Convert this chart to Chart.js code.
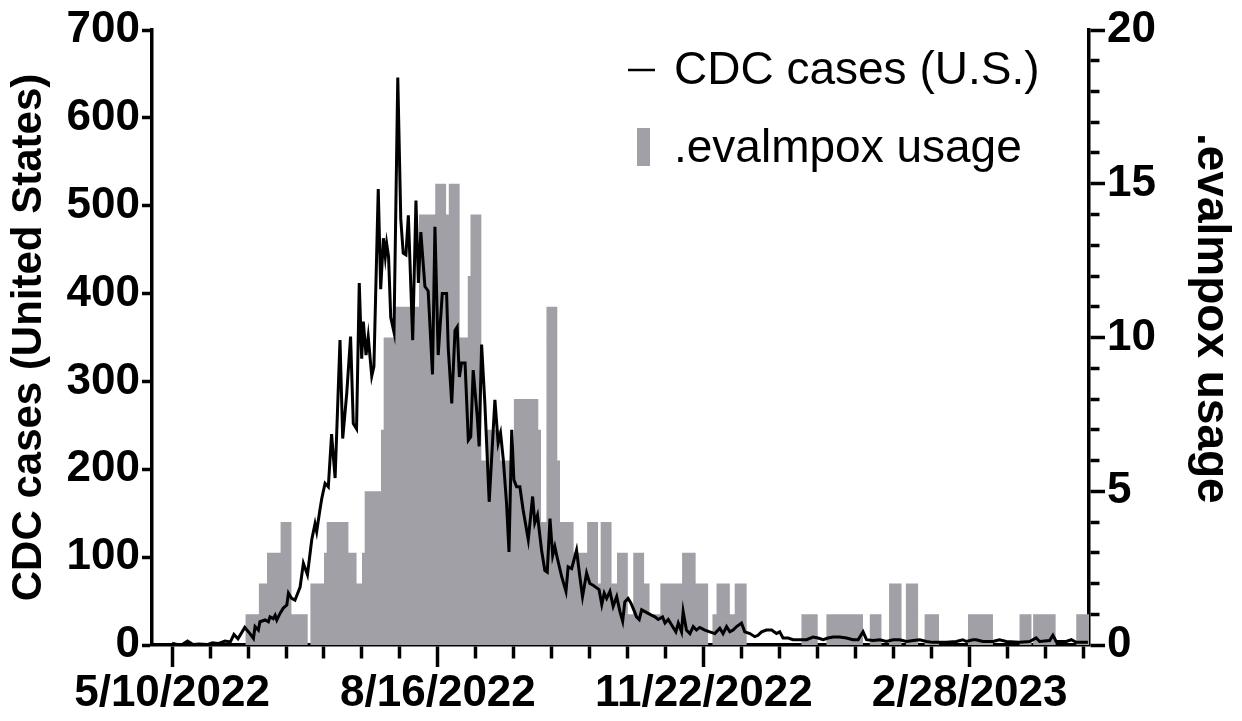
<!DOCTYPE html>
<html>
<head>
<meta charset="utf-8">
<script src="https://cdn.jsdelivr.net/npm/chart.js@4.4.0/dist/chart.umd.min.js"></script>
<style>
  html, body { margin: 0; padding: 0; background: #fff; }
</style>
</head>
<body>
<canvas id="mpoxChart" width="1242" height="721"></canvas>
<script>
// x values are days counted from 5/10/2022
const caseDays = [
  0, 1.8, 4, 5.7, 7.7, 10, 12.9, 14.9, 16.9, 19.5,
  21.5, 22.8, 24.3, 26.8, 28.7, 30, 30.6, 31.8, 32.4, 34.3,
  35.5, 36.1, 37.3, 38, 38.6, 39.8, 41, 42.3, 42.9, 44.1,
  45.3, 47.2, 48.4, 49.9, 51.5, 52.7, 53.3, 54.5, 55.2, 56.4,
  57.6, 58.8, 60.1, 61.9, 62.9, 64.4, 65.8, 66.8, 68, 69,
  69.9, 70.5, 71.5, 72.3, 73.6, 74.4, 76, 76.9, 77.9, 78.6,
  79.1, 79.8, 80.6, 81.8, 83.2, 84.3, 85.2, 86.2, 87.1, 88.7,
  89.9, 90.8, 91.7, 92.6, 93.2, 94.4, 96, 96.9, 98.1, 99.6,
  101.2, 101.8, 103.1, 104.3, 105.1, 105.9, 106.7, 108, 109.2, 110.1,
  111, 112.5, 113.2, 114.1, 115.3, 116.9, 119, 120.2, 121.1, 122.1,
  123.3, 124.2, 125.2, 126, 127, 128.2, 129.4, 131.3, 132.9, 133.7,
  134.7, 136.2, 137.4, 138.3, 139.3, 140.3, 141.1, 142, 143.6, 145.2,
  146, 147.3, 149.1, 150.3, 151.3, 152.8, 154, 155.2, 157.4, 158.4,
  159.3, 160.2, 161.4, 162.6, 163.9, 165.1, 166.1, 166.9, 168.1, 169.1,
  170.2, 171.2, 172.2, 173.1, 174.3, 175.5, 176.7, 178, 179.2, 180.8,
  181.7, 182.9, 184.1, 185.7, 186.6, 187.8, 188.4, 189.6, 190.9, 192.1,
  193.3, 194.5, 196.4, 198.2, 200.1, 201.9, 203.1, 204.4, 205.6, 206.8,
  208.1, 209.9, 211.1, 213, 214.8, 216, 217.3, 219.1, 221, 222.8,
  224, 225.2, 227.1, 228.9, 231.4, 233.9, 236.3, 238.1, 240, 241.8,
  243.7, 246.1, 248.6, 251, 252.9, 254.7, 256, 258.4, 260.9, 263.3,
  265.8, 268.2, 270.7, 273.2, 275.6, 278.1, 280.5, 285.4, 289.1, 291.5,
  292.8, 295.2, 296.4, 298.9, 302.6, 305, 307.5, 312.4, 316.1, 318.5,
  319.8, 323.5, 324.7, 325.9, 329.6, 331.5, 333.3, 337.6
];
const caseValues = [
  2, 0.5, 1, 4.5, 0.5, 1, 0.5, 2.4, 1.6, 4.5,
  3.5, 12, 7, 20, 13, 7.6, 21, 17, 26.5, 28.5,
  26.5, 32, 30, 34, 28.5, 36, 42, 45.5, 59, 53,
  51, 66, 93, 80, 120, 138, 129, 154, 167, 184,
  180, 240, 190, 347, 235, 287, 351, 252, 246, 412,
  326, 368, 330, 351, 306, 317, 519, 405, 463, 442,
  457, 442, 373, 356, 646, 485, 446, 444, 489, 347,
  506, 412, 470, 433, 408, 403, 308, 476, 330, 400,
  400, 338, 275, 358, 362, 305, 321, 321, 233, 237,
  313, 260, 226, 342, 275, 163, 279, 230, 241, 211,
  161, 106, 245, 188, 180, 180, 154, 120, 169, 139,
  148, 108, 85, 83, 144, 102, 112, 99, 78, 61,
  89, 87, 108, 78, 55, 82, 70, 68, 63, 46,
  59, 53, 61, 44, 55, 38, 27, 49, 53, 48,
  40, 32, 29, 40, 38, 36, 34, 32, 29, 32,
  25, 29, 23, 15, 25, 15, 38, 17, 13, 21,
  17, 20, 17, 15, 13, 19, 13, 21, 15, 17,
  21, 25, 15, 13, 9.5, 11, 15, 17, 17, 13,
  15, 8, 8, 6, 6, 6, 9, 8, 6, 8,
  9, 9, 8, 6, 6, 15, 6, 5, 6, 4,
  6, 6, 4, 5, 6, 4, 3, 3, 4, 6,
  4, 6, 6, 4, 4, 6, 4, 3, 4, 8,
  4, 5, 11, 4, 4, 6, 3, 3
];

// usage: each value holds from its start day until the next start day
const usageStartDays = [
  27, 32, 35, 40, 44, 50, 51, 56, 57, 65,
  68, 70, 71, 77, 78, 82, 91, 97, 101, 102,
  106, 109, 110, 114, 116, 121, 126, 135, 136, 138,
  142, 143, 148, 153, 157, 158, 162, 164, 168, 170,
  174, 176, 180, 188, 193, 197.6, 199.2, 200.7, 205.6, 207.4,
  211.8, 232, 238, 241.2, 254.7, 257.2, 261.5, 264.3, 268.9, 270.5,
  275, 277.4, 282.7, 293.4, 302.6, 312.4, 316.8, 317.4, 325.7, 333.3,
  338
];
const usageValues = [
  1, 2, 3, 4, 1, 0, 2, 3, 4, 3,
  2, 3, 5, 7, 10, 11, 14, 15, 14, 15,
  10, 12, 14, 6, 7, 6, 8, 7, 4, 11,
  6, 4, 3, 4, 2, 4, 2, 3, 1, 3,
  2, 1, 2, 3, 2, 0, 1, 2, 1, 2,
  0, 1, 0, 1, 0, 1, 0, 2, 0, 2,
  0, 1, 0, 1, 0, 1, 0, 1, 0, 1,
  1
];

const xTickDays = [0, 98, 196, 294];
const xTickLabels = ['5/10/2022', '8/16/2022', '11/22/2022', '2/28/2023'];
const minorTickStep = 14;

const seriesLabels = ['CDC cases (U.S.)', '.evalmpox usage'];
const barGray = '#a0a0a6';

Chart.defaults.font.family = '"Liberation Sans", Arial, sans-serif';
Chart.defaults.color = '#000';

const casePoints = caseDays.map((d, i) => ({ x: d, y: caseValues[i] }));
const usagePoints = usageStartDays.map((d, i) => ({ x: d, y: usageValues[i] }));

// legend sits inside the plot, top right
const insideLegend = {
  id: 'insideLegend',
  afterDatasetsDraw(chart) {
    const { ctx, chartArea } = chart;
    const left = chartArea.left, top = chartArea.top;
    ctx.save();
    ctx.font = '46px "Liberation Sans", Arial, sans-serif';
    ctx.fillStyle = '#000';
    ctx.textBaseline = 'middle';
    ctx.strokeStyle = '#000';
    ctx.lineWidth = 2.5;
    ctx.beginPath();
    ctx.moveTo(left + 476, top + 40);
    ctx.lineTo(left + 503, top + 40);
    ctx.stroke();
    ctx.fillText(seriesLabels[0], left + 522, top + 41);
    ctx.fillStyle = barGray;
    ctx.fillRect(left + 485, top + 98, 13, 38);
    ctx.fillStyle = '#000';
    ctx.fillText(seriesLabels[1], left + 522, top + 119);
    ctx.restore();
  }
};

const ctxMpox = document.getElementById('mpoxChart').getContext('2d');
const chart_mpox = new Chart(ctxMpox, {
  type: 'line',
  data: {
    datasets: [
      {
        label: seriesLabels[0],
        data: casePoints,
        yAxisID: 'y',
        borderColor: '#000',
        borderWidth: 3,
        pointRadius: 0,
        tension: 0,
        fill: false,
        order: 1,
      },
      {
        label: seriesLabels[1],
        data: usagePoints,
        yAxisID: 'y1',
        stepped: true,
        fill: 'origin',
        backgroundColor: barGray,
        borderColor: 'rgba(0,0,0,0)',
        borderWidth: 0,
        pointRadius: 0,
        order: 2,
      },
    ],
  },
  options: {
    responsive: false,
    animation: false,
    devicePixelRatio: 1,
    layout: { padding: { top: 30 } },
    plugins: { legend: { display: false }, tooltip: { enabled: false } },
    scales: {
      x: {
        type: 'linear',
        min: -7.4,
        max: 338,
        afterBuildTicks: (scale) => {
          const t = [];
          for (let d = 0; d <= scale.max; d += minorTickStep) t.push({ value: d });
          scale.ticks = t;
        },
        afterFit: (scale) => { scale.height = 76; },
        ticks: {
          autoSkip: false,
          maxRotation: 0,
          padding: 0,
          font: { size: 44, weight: 'bold' },
          callback: (v) => {
            const i = xTickDays.indexOf(v);
            return i >= 0 ? xTickLabels[i] : '';
          },
        },
        grid: {
          drawOnChartArea: false,
          tickLength: 22,
          tickWidth: 3.5,
          tickColor: '#000',
          tickBorderDash: (c) => (c.tick && xTickDays.includes(c.tick.value) ? [] : [12, 60]),
        },
        border: { color: '#000', width: 3.5 },
      },
      y: {
        position: 'left',
        min: 0,
        max: 700,
        afterFit: (scale) => { scale.width = 152; },
        ticks: { stepSize: 100, padding: 2, font: { size: 44, weight: 'bold' } },
        grid: { drawOnChartArea: false, tickLength: 10, tickWidth: 3.5, tickColor: '#000' },
        border: { color: '#000', width: 3.5 },
        title: {
          display: true,
          text: 'CDC cases (United States)',
          font: { size: 42, weight: 'bold' },
          padding: { top: 4, bottom: 0 },
        },
      },
      y1: {
        position: 'right',
        min: 0,
        max: 20,
        afterFit: (scale) => { scale.width = 153; },
        ticks: {
          stepSize: 1,
          autoSkip: false,
          padding: 2,
          font: { size: 44, weight: 'bold' },
          callback: (v) => (v % 5 === 0 ? v : ''),
        },
        grid: {
          drawOnChartArea: false,
          tickLength: 16,
          tickWidth: 3.5,
          tickColor: '#000',
          tickBorderDash: (c) => (c.tick && c.tick.value % 5 === 0 ? [] : [9, 60]),
        },
        border: { color: '#000', width: 3.5 },
        title: {
          display: true,
          // trailing spaces nudge the title up a little, as in the original
          text: seriesLabels[1] + '   ',
          font: { size: 46, weight: 'bold' },
          padding: { top: 4, bottom: 0 },
        },
      },
    },
  },
  plugins: [insideLegend],
});
</script>
</body>
</html>
